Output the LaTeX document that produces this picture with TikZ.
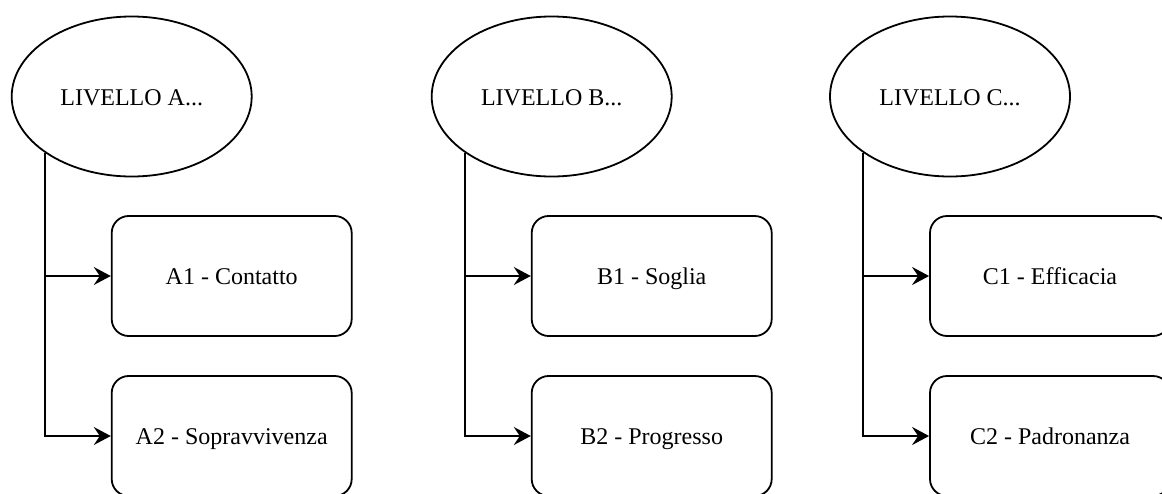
\documentclass[tikz,border=0pt]{standalone}
\usepackage{fontspec}
\setmainfont{Liberation Serif}
\usetikzlibrary{shapes.geometric,arrows.meta}
\begin{document}
\begin{tikzpicture}[x=1pt,y=-1pt,
  line width=1.8pt,
  labeltext/.style={font=\fontsize{24}{29}\selectfont, text height=19pt, text depth=2pt},
  levelnode/.style={draw, ellipse, minimum width=240pt, minimum height=160pt, inner sep=0pt, labeltext},
  subnode/.style={draw, rounded corners=17pt, minimum width=240pt, minimum height=120pt, inner sep=0pt, labeltext},
  link/.style={-{Stealth[length=17pt,width=18pt,inset=6pt]}}]
\useasboundingbox (0,0) rectangle (1162,493);
\clip (0,0) rectangle (1162,493);

% level A
\node[levelnode] (eA) at (131.7,96.5) {LIVELLO A...};
\node[subnode] (A1) at (231.7,276) {A1 - Contatto};
\node[subnode] (A2) at (231.7,436) {A2 - Sopravvivenza};
\draw[link] (eA.213.6) |- (A2.west);
\draw[link] (eA.213.6 |- A1.west) -- (A1.west);

% level B
\node[levelnode] (eB) at (551.7,96.5) {LIVELLO B...};
\node[subnode] (B1) at (651.7,276) {B1 - Soglia};
\node[subnode] (B2) at (651.7,436) {B2 - Progresso};
\draw[link] (eB.213.6) |- (B2.west);
\draw[link] (eB.213.6 |- B1.west) -- (B1.west);

% level C
\node[levelnode] (eC) at (950,96.5) {LIVELLO C...};
\node[subnode] (C1) at (1050,276) {C1 - Efficacia};
\node[subnode] (C2) at (1050,436) {C2 - Padronanza};
\draw[link] (eC.213.6) |- (C2.west);
\draw[link] (eC.213.6 |- C1.west) -- (C1.west);
\end{tikzpicture}
\end{document}
